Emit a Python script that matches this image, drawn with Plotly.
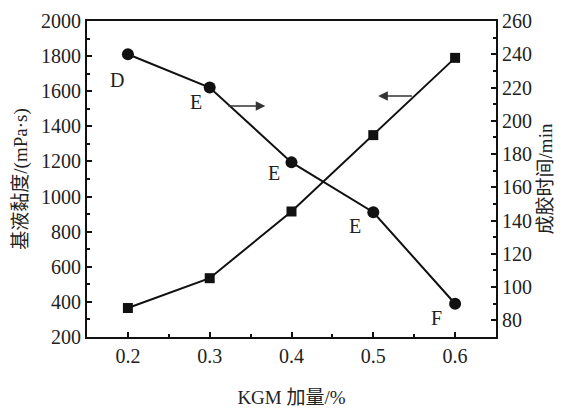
import plotly.graph_objects as go

# KGM dosage (%)
kgm = [0.2, 0.3, 0.4, 0.5, 0.6]
# base-fluid viscosity (mPa·s), left axis
viscosity = [365, 535, 915, 1350, 1790]
# gelation time (min), right axis
gel_time = [240, 220, 175, 145, 90]
# gel grade labels next to each gelation-time point
grades = ["D", "E", "E", "E", "F"]
# label pixel offsets (dx, dy) relative to the points; negative dy = below
label_shift = [(-11, -26), (-14, -14), (-18, -11), (-18, -14), (-19, -14)]

FONT = "Liberation Serif, Times New Roman, Noto Sans CJK SC, serif"
INK = "#111111"

fig = go.Figure()

fig.add_trace(go.Scatter(
    x=kgm, y=viscosity, mode="lines+markers", yaxis="y",
    line=dict(color=INK, width=2),
    marker=dict(symbol="square", size=10, color=INK),
    showlegend=False,
))
fig.add_trace(go.Scatter(
    x=kgm, y=gel_time, mode="lines+markers", yaxis="y2",
    line=dict(color=INK, width=2),
    marker=dict(symbol="circle", size=12, color=INK),
    showlegend=False,
))

annotations = []
for xv, yv, txt, (dx, dy) in zip(kgm, gel_time, grades, label_shift):
    annotations.append(dict(
        x=xv, y=yv, xref="x", yref="y2", text=txt, showarrow=False,
        xshift=dx, yshift=dy, font=dict(family=FONT, size=20, color="#222"),
    ))

# direction arrows pointing to the axis each curve belongs to
annotations.append(dict(
    x=0.368, y=1516, ax=0.321, ay=1516, xref="x", yref="y", axref="x", ayref="y",
    text="", showarrow=True, arrowhead=2, arrowsize=1.2, arrowwidth=1.6, arrowcolor="#333",
))
annotations.append(dict(
    x=0.506, y=1573, ax=0.549, ay=1573, xref="x", yref="y", axref="x", ayref="y",
    text="", showarrow=True, arrowhead=2, arrowsize=1.2, arrowwidth=1.6, arrowcolor="#333",
))

axis_common = dict(
    showgrid=False, zeroline=False, showline=True, linecolor=INK, linewidth=2,
    ticks="inside", ticklen=5, tickwidth=1.5, tickcolor=INK, automargin=False,
    tickfont=dict(family=FONT, size=20, color="#222"),
)

fig.update_layout(
    width=566, height=408,
    margin=dict(l=87, r=70, t=21, b=71),
    paper_bgcolor="white", plot_bgcolor="white",
    annotations=annotations,
    xaxis=dict(
        **axis_common, range=[0.15, 0.65], tickvals=[0.2, 0.3, 0.4, 0.5, 0.6],
        ticktext=["0.2", "0.3", "0.4", "0.5", "0.6"], mirror=True,
        minor=dict(ticks="inside", ticklen=3, tickwidth=1.5, tickcolor=INK,
                   tickvals=[0.25, 0.35, 0.45, 0.55]),
        title=dict(text="KGM 加量/%", font=dict(family=FONT, size=19, color="#222"),
                   standoff=32),
    ),
    yaxis=dict(
        **axis_common, range=[200, 2000], tick0=200, dtick=200,
        minor=dict(ticks="inside", ticklen=3, tickwidth=1.5, tickcolor=INK, dtick=100),
        title=dict(text="基液黏度/(mPa·s)", font=dict(family=FONT, size=19, color="#222"),
                   standoff=8),
    ),
    yaxis2=dict(
        **axis_common, range=[70, 260], tick0=80, dtick=20, overlaying="y", side="right",
        minor=dict(ticks="inside", ticklen=3, tickwidth=1.5, tickcolor=INK, tick0=70, dtick=10),
        title=dict(text="成胶时间/min", font=dict(family=FONT, size=19, color="#222"),
                   standoff=8),
    ),
)

fig.write_html("out.html")
